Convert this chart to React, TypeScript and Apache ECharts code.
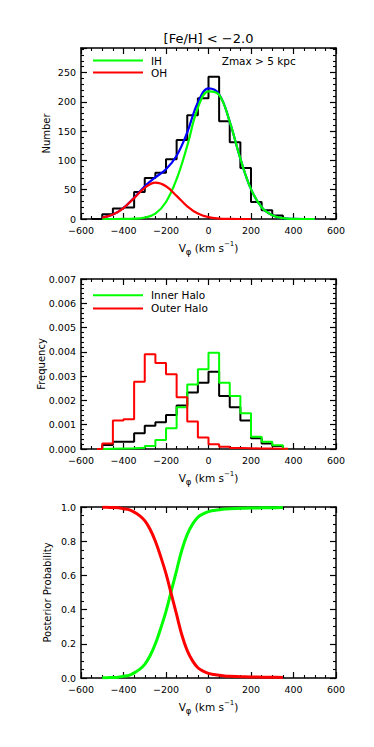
import React, { useEffect, useRef } from 'react';
import * as echarts from 'echarts';

const FONT = 'DejaVu Sans';

// shared x axis tick labels (km/s)
const X_TICKS = [-600, -400, -200, 0, 200, 400, 600];

// Panel 1: number histogram, 50 km/s bins (left edges; last entry closes the last bin)
const COUNT_EDGES = [-550, -500, -450, -400, -350, -300, -250, -200, -150, -100, -50, 0, 50, 100, 150, 200, 250, 300, 350, 400];
const COUNT_VALUES = [0, 8, 18, 19.5, 46, 70, 79, 102, 135, 177, 206, 243, 167, 131, 87, 29, 15, 6, 0];

// Panel 1: fitted Gaussian curves
const FIT_X = [-500, -450, -400, -350, -300, -250, -200, -150, -100, -50, 0, 50, 100, 150, 200, 250, 300, 350, 400, 450, 500];
const FIT_TOTAL = [2.4, 7.6, 18.8, 36.2, 56, 71, 85, 108, 148, 199, 223, 213, 166, 103, 51, 20, 6.3, 1.4, 0.2, 0, 0];
const FIT_IH = [0, 0, 0.1, 0.5, 2.5, 9, 29, 68, 125, 190, 218, 212, 166, 103, 51, 20, 6.3, 1.4, 0.2, 0, 0];
const FIT_OH_X = [-500, -450, -400, -350, -300, -250, -200, -150, -100, -50, 0, 50, 100, 150, 200];
const FIT_OH = [2.4, 7.6, 18.7, 35.7, 53.3, 62, 56, 39.5, 21.7, 9.3, 3.1, 0.8, 0.2, 0, 0];

// Panel 2: normalised histograms
const FREQ_EDGES = [-525, -500, -450, -400, -350, -300, -250, -200, -150, -100, -50, 0, 50, 100, 150, 200, 250, 300, 350, 375];
const FREQ_ALL = [0, 0.00016, 0.0003, 0.0003, 0.00065, 0.00096, 0.0011, 0.0014, 0.00179, 0.00233, 0.00273, 0.00318, 0.00218, 0.00172, 0.00117, 0.00044, 0.00023, 0.00012, 0];
const FREQ_INNER = [0, 0.00001, 0.00002, 0.00003, 0.00005, 0.00012, 0.00037, 0.00085, 0.00172, 0.00266, 0.00328, 0.00396, 0.00273, 0.00218, 0.00147, 0.0005, 0.0003, 0.00015, 0];
const FREQ_OUTER = [0, 0.00023, 0.00117, 0.00122, 0.00277, 0.0039, 0.00354, 0.00308, 0.00213, 0.00113, 0.00047, 0.0002, 0.00009, 0.00004, 0.00003, 0.00002, 0.00002, 0.00001, 0.00001];

// Panel 3: posterior probabilities
const POST_X = [-500, -475, -450, -425, -400, -375, -350, -325, -300, -275, -250, -225, -200, -175, -150, -125, -100, -75, -50, -25, 0, 25, 50, 75, 100, 150, 200, 250, 300, 350];
const POST_OH = [0.999, 0.998, 0.997, 0.995, 0.99, 0.985, 0.97, 0.95, 0.92, 0.87, 0.8, 0.71, 0.61, 0.49, 0.37, 0.25, 0.16, 0.1, 0.06, 0.04, 0.027, 0.02, 0.016, 0.012, 0.01, 0.008, 0.006, 0.005, 0.004, 0.003];
const POST_IH = [0.001, 0.002, 0.003, 0.005, 0.01, 0.015, 0.03, 0.05, 0.08, 0.13, 0.2, 0.29, 0.39, 0.51, 0.63, 0.75, 0.84, 0.9, 0.94, 0.96, 0.973, 0.98, 0.984, 0.988, 0.99, 0.992, 0.994, 0.995, 0.996, 0.997];

const pair = (xs: number[], ys: number[]) => ys.map((y, i) => [xs[i], y]);
const stepData = (edges: number[], vals: number[]) =>
  edges.map((e, i) => [e, vals[Math.min(i, vals.length - 1)]]);
const minus = (v: number) => String(v).replace('-', '\u2212');

const GRIDS = [
  { left: 81, top: 48, width: 255, height: 171 },
  { left: 81, top: 279, width: 255, height: 170 },
  { left: 81, top: 507, width: 255, height: 171 },
];

const Y_CFG = [
  { min: 0, max: 292, interval: 50, minor: 5, fmt: (v: number) => String(v), name: 'Number', showMax: false, gap: 30 },
  { min: 0, max: 0.007, interval: 0.001, minor: 5, fmt: (v: number) => v.toFixed(3), name: 'Frequency', showMax: true, gap: 35 },
  { min: 0, max: 1, interval: 0.2, minor: 4, fmt: (v: number) => v.toFixed(1), name: 'Posterior Probability', showMax: true, gap: 29 },
];

const axisStyle = (minor: number) => ({
  axisLine: { onZero: false, lineStyle: { color: '#000', width: 1.5 } },
  axisTick: { inside: true, length: 6, lineStyle: { color: '#000', width: 1.2 } },
  minorTick: { show: true, splitNumber: minor, length: 3, lineStyle: { color: '#000', width: 1.1 } },
  splitLine: { show: false },
  minorSplitLine: { show: false },
});

function buildOption() {
  const xAxes: any[] = [];
  const yAxes: any[] = [];
  GRIDS.forEach((_, i) => {
    const xBase = {
      type: 'value',
      gridIndex: i,
      min: X_TICKS[0],
      max: X_TICKS[X_TICKS.length - 1],
      interval: X_TICKS[1] - X_TICKS[0],
      ...axisStyle(4),
    };
    xAxes.push({
      ...xBase,
      position: 'bottom',
      axisLabel: { show: true, fontFamily: FONT, fontSize: 9.5, color: '#000', margin: 6, formatter: minus },
      name: '{a|V}{b|\u03c6}{a| (km s}{c|\u22121}{a|)}',
      nameLocation: 'middle',
      nameGap: 21,
      nameMoveOverlap: false,
      nameTextStyle: {
        color: '#000',
        fontFamily: FONT,
        fontSize: 10.5,
        rich: {
          a: { fontFamily: FONT, fontSize: 10.5, color: '#000', lineHeight: 16, verticalAlign: 'middle' },
          b: { fontFamily: FONT, fontSize: 8.5, color: '#000', lineHeight: 8, verticalAlign: 'bottom' },
          c: { fontFamily: FONT, fontSize: 7, color: '#000', lineHeight: 7, verticalAlign: 'top' },
        },
      },
    });
    xAxes.push({ ...xBase, position: 'top', axisLabel: { show: false } });

    const c = Y_CFG[i];
    const yBase = {
      type: 'value',
      gridIndex: i,
      min: c.min,
      max: c.max,
      interval: c.interval,
      ...axisStyle(c.minor),
    };
    yAxes.push({
      ...yBase,
      position: 'left',
      axisLabel: {
        show: true,
        fontFamily: FONT,
        fontSize: 9.5,
        color: '#000',
        margin: 5,
        formatter: c.fmt,
        showMaxLabel: c.showMax,
      },
      name: c.name,
      nameLocation: 'middle',
      nameGap: c.gap,
      nameMoveOverlap: false,
      nameTextStyle: { color: '#000', fontFamily: FONT, fontSize: 10 },
    });
    yAxes.push({ ...yBase, position: 'right', axisLabel: { show: false } });
  });

  const line = (name: string, data: any[], color: string, width: number, xi: number, extra: any = {}) => ({
    type: 'line',
    name,
    data,
    xAxisIndex: xi,
    yAxisIndex: xi,
    symbol: 'none',
    showSymbol: false,
    lineStyle: { color, width },
    itemStyle: { color },
    silent: true,
    ...extra,
  });

  const series = [
    line('Histogram', stepData(COUNT_EDGES, COUNT_VALUES), '#000000', 2, 0, { step: 'end' }),
    line('Total', pair(FIT_X, FIT_TOTAL), '#0000ff', 2.2, 0, { smooth: 0.4 }),
    line('IH', pair(FIT_X, FIT_IH), '#00ff00', 2.2, 0, { smooth: 0.4 }),
    line('OH', pair(FIT_OH_X, FIT_OH), '#ff0000', 2.2, 0, { smooth: 0.4 }),

    line('All', stepData(FREQ_EDGES, FREQ_ALL), '#000000', 2, 2, { step: 'end' }),
    line('Inner Halo', stepData(FREQ_EDGES, FREQ_INNER), '#00ff00', 2, 2, { step: 'end' }),
    line('Outer Halo', stepData(FREQ_EDGES, FREQ_OUTER), '#ff0000', 2, 2, { step: 'end' }),

    line('P(IH)', pair(POST_X, POST_IH), '#00ff00', 3, 4, { smooth: 0.4 }),
    line('P(OH)', pair(POST_X, POST_OH), '#ff0000', 3, 4, { smooth: 0.4 }),
  ];

  const legendBase = {
    orient: 'vertical',
    left: 93,
    padding: 0,
    itemWidth: 50,
    itemHeight: 2,
    itemGap: 0,
    icon: 'rect',
    selectedMode: false,
  };

  return {
    animation: false,
    backgroundColor: '#ffffff',
    grid: GRIDS,
    xAxis: xAxes,
    yAxis: yAxes,
    series,
    legend: [
      {
        ...legendBase,
        top: 54.5,
        data: ['IH', 'OH'],
        textStyle: { fontFamily: FONT, fontSize: 10.5, color: '#000', lineHeight: 12, padding: [0, 0, 0, 3] },
      },
      {
        ...legendBase,
        top: 288.5,
        data: ['Inner Halo', 'Outer Halo'],
        textStyle: { fontFamily: FONT, fontSize: 10.5, color: '#000', lineHeight: 13.3, padding: [0, 0, 0, 3] },
      },
    ],
    graphic: [
      {
        type: 'text',
        x: 208.5,
        y: 38,
        style: {
          text: '[Fe/H] < \u22122.0',
          font: `13px "${FONT}"`,
          fill: '#000',
          align: 'center',
          verticalAlign: 'middle',
        },
      },
      {
        type: 'text',
        x: 221.7,
        y: 61,
        style: {
          text: 'Zmax > 5 kpc',
          font: `10.5px "${FONT}"`,
          fill: '#000',
          align: 'left',
          verticalAlign: 'middle',
        },
      },
    ],
  };
}

export default function App() {
  const ref = useRef<HTMLDivElement>(null);
  useEffect(() => {
    if (!ref.current) return;
    const chart = echarts.init(ref.current, undefined, { renderer: 'svg' });
    chart.setOption(buildOption() as any);
    return () => chart.dispose();
  }, []);
  return (
    <div
      ref={ref}
      style={{ position: 'absolute', left: 0, top: 0, width: 374, height: 747, background: '#fff' }}
    />
  );
}
